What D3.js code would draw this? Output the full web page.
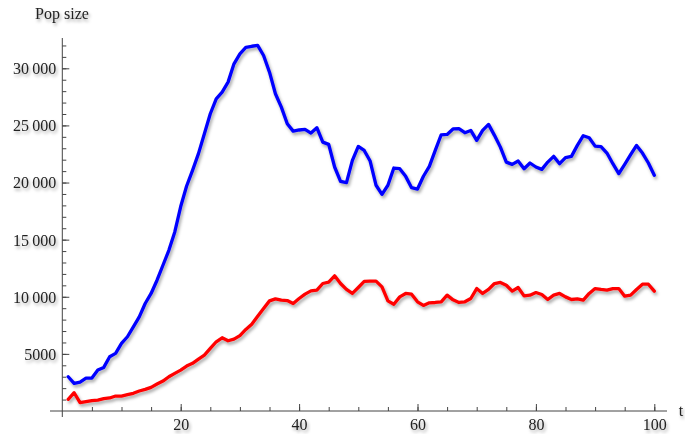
<!DOCTYPE html>
<html>
<head>
<meta charset="utf-8">
<script src="https://cdn.jsdelivr.net/npm/d3@7"></script>
<style>
  body { margin: 0; background: #fff; }
  svg { display: block; }
</style>
</head>
<body>
<div id="chart"></div>
<script>
// time steps 1..100
var steps = d3.range(1, 101);

// blue population
var bluePop = [
  3000, 2420, 2535, 2885, 2885, 3580, 3815, 4750, 5040, 5915,
  6500, 7370, 8245, 9410, 10290, 11450, 12760, 14070, 15670, 17900,
  19700, 21070, 22530, 24270, 26020, 27330, 27910, 28790, 30390, 31270,
  31840, 31930, 32000, 31120, 29660, 27770, 26600, 25150, 24500, 24600,
  24650, 24330, 24800, 23540, 23340, 21360, 20100, 19990, 21940, 23160,
  22810, 21880, 19760, 18970, 19760, 21270, 21210, 20540, 19550, 19430,
  20550, 21420, 22810, 24180, 24210, 24690, 24710, 24360, 24560, 23690,
  24560, 25090, 24130, 23100, 21790, 21590, 21880, 21210, 21710, 21360,
  21150, 21790, 22290, 21650, 22180, 22290, 23250, 24100, 23920, 23190,
  23140, 22580, 21650, 20780, 21590, 22440, 23250, 22580, 21710, 20630
];

// red population
var redPop = [
  1020, 1600, 730, 815, 900, 960, 1080, 1140, 1310, 1310,
  1430, 1550, 1750, 1890, 2070, 2360, 2620, 3000, 3290, 3580,
  3930, 4170, 4545, 4895, 5480, 6060, 6410, 6150, 6290, 6600,
  7140, 7600, 8300, 8980, 9640, 9820, 9700, 9670, 9410, 9850,
  10230, 10520, 10580, 11160, 11280, 11830, 11160, 10640, 10290, 10810,
  11340, 11370, 11370, 10870, 9640, 9350, 9990, 10290, 10230, 9560,
  9240, 9470, 9500, 9560, 10140, 9730, 9500, 9560, 9850, 10720,
  10290, 10640, 11160, 11250, 11010, 10490, 10810, 10080, 10140, 10370,
  10200, 9760, 10140, 10290, 9990, 9760, 9820, 9700, 10290, 10720,
  10640, 10580, 10720, 10720, 10050, 10140, 10640, 11100, 11100, 10490
];

// ticks
var xMajorTicks = [20, 40, 60, 80, 100];
var xMinorTicks = d3.range(5, 101, 5);
var yMajorTicks = [5000, 10000, 15000, 20000, 25000, 30000];
var yTickLabels = ["5000", "10\u2009000", "15\u2009000", "20\u2009000", "25\u2009000", "30\u2009000"];
var yMinorTicks = d3.range(1000, 32001, 1000);

var width = 690, height = 434;
var serif = "'Liberation Serif', 'Times New Roman', serif";

var svg = d3.select("#chart").append("svg")
  .attr("width", width)
  .attr("height", height);

// soft drop shadow like the original
var defs = svg.append("defs");
var f = defs.append("filter").attr("id", "shadow")
  .attr("x", "-10%").attr("y", "-10%").attr("width", "130%").attr("height", "140%");
f.append("feDropShadow")
  .attr("dx", 1.5).attr("dy", 2.5).attr("stdDeviation", 1.8)
  .attr("flood-color", "#000").attr("flood-opacity", 0.35);

var x = d3.scaleLinear().domain([0, 100]).range([62.3, 654.3]);
var y = d3.scaleLinear().domain([0, 30000]).range([411, 68.3]);

var axisColor = "#444";

// x axis
svg.append("line")
  .attr("x1", 50).attr("x2", 667)
  .attr("y1", y(0)).attr("y2", y(0))
  .attr("stroke", axisColor);

var xMinor = svg.append("g")
  .attr("transform", "translate(0," + y(0) + ")")
  .call(d3.axisBottom(x).tickValues(xMinorTicks).tickSize(-4).tickFormat(""));
var xMajor = svg.append("g")
  .attr("transform", "translate(0," + y(0) + ")")
  .call(d3.axisBottom(x).tickValues(xMajorTicks).tickSize(-7).tickPadding(8).tickFormat(d3.format("d")));

// y axis
svg.append("line")
  .attr("x1", x(0)).attr("x2", x(0))
  .attr("y1", 38).attr("y2", 417)
  .attr("stroke", axisColor);

var yMinor = svg.append("g")
  .attr("transform", "translate(" + x(0) + ",0)")
  .call(d3.axisLeft(y).tickValues(yMinorTicks).tickSize(-4).tickFormat(""));
var yMajor = svg.append("g")
  .attr("transform", "translate(" + x(0) + ",0)")
  .call(d3.axisLeft(y).tickValues(yMajorTicks).tickSize(-7).tickPadding(6)
    .tickFormat(function(d, i) { return yTickLabels[i]; }));

[xMinor, xMajor, yMinor, yMajor].forEach(function(g) {
  g.select(".domain").remove();
  g.attr("font-family", serif).attr("font-size", 16);
  g.selectAll(".tick line").attr("stroke", axisColor);
  g.selectAll(".tick text").attr("fill", "#222").attr("filter", "url(#shadow)");
});
yMajor.selectAll(".tick text").attr("dy", "0.34em");

// axis labels
svg.append("text")
  .attr("x", 62).attr("y", 19)
  .attr("text-anchor", "middle")
  .attr("font-family", serif)
  .attr("font-size", 16)
  .attr("fill", "#222")
  .attr("filter", "url(#shadow)")
  .text("Pop size");

svg.append("text")
  .attr("x", 681).attr("y", 416)
  .attr("text-anchor", "middle")
  .attr("font-family", serif)
  .attr("font-size", 16)
  .attr("fill", "#222")
  .attr("filter", "url(#shadow)")
  .text("t");

// lines
var line = d3.line()
  .x(function(d) { return x(d[0]); })
  .y(function(d) { return y(d[1]); });

var series = [
  { values: bluePop, color: "#0000ff" },
  { values: redPop, color: "#ff0000" }
];

svg.selectAll("path.series")
  .data(series)
  .enter()
  .append("path")
  .attr("class", "series")
  .attr("fill", "none")
  .attr("stroke", function(d) { return d.color; })
  .attr("stroke-width", 3.3)
  .attr("stroke-linejoin", "round")
  .attr("stroke-linecap", "round")
  .attr("filter", "url(#shadow)")
  .attr("d", function(d) {
    return line(d.values.map(function(v, i) { return [steps[i], v]; }));
  });
</script>
</body>
</html>
